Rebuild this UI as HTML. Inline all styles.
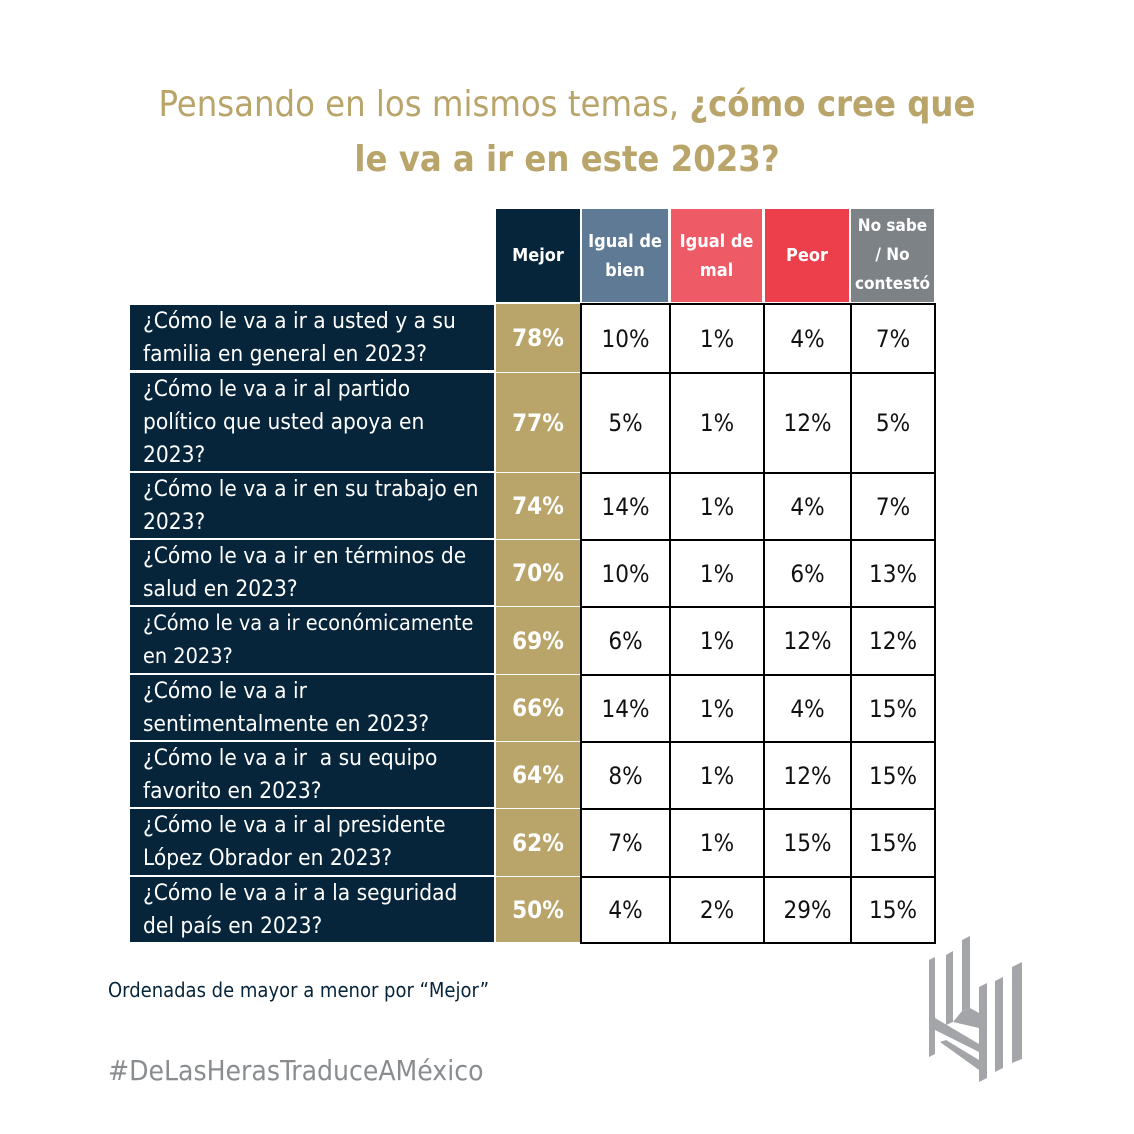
<!DOCTYPE html>
<html><head><meta charset="utf-8"><style>
body{margin:0;width:1134px;height:1134px;background:#fff;position:relative;overflow:hidden;font-family:"Liberation Sans Narrow","DejaVu Sans Condensed","Liberation Sans",sans-serif}
.a{position:absolute;box-sizing:border-box}
.t{left:0;width:1134px;text-align:center;color:#b9a46a;font-size:36px;white-space:nowrap}
.h{color:#fff;font-weight:bold;font-size:18px;display:flex;align-items:center;justify-content:center;text-align:center;line-height:29px;white-space:nowrap}
.q{background:#06243a;color:#fff;font-size:22.5px;line-height:33px;padding-left:13px;display:flex;align-items:center;left:130px;width:364px;white-space:nowrap;overflow:hidden}
.m{background:#b9a46a;color:#fff;font-weight:bold;font-size:24px;display:flex;align-items:center;justify-content:center;left:496px;width:84px}
.c{border:2px solid #000;font-size:24px;display:flex;align-items:center;justify-content:center;color:#111}
</style></head><body>
<div class="a t" style="top:84px">Pensando en los mismos temas, <b>¿cómo cree que</b></div>
<div class="a t" style="top:139px"><b>le va a ir en este 2023?</b></div>

<div class="a h" style="left:496px;top:209px;width:84px;height:93px;background:#06243a">Mejor</div>
<div class="a h" style="left:582px;top:209px;width:86px;height:93px;background:#5e7a95">Igual de<br>bien</div>
<div class="a h" style="left:671px;top:209px;width:91px;height:93px;background:#ee5a66">Igual de<br>mal</div>
<div class="a h" style="left:765px;top:209px;width:84px;height:93px;background:#ec3e4b">Peor</div>
<div class="a h" style="left:851px;top:209px;width:83px;height:93px;background:#7d8287;font-size:17px">No sabe<br>/ No<br>contestó</div>

<div class="a q" style="top:305px;height:65px">¿Cómo le va a ir a usted y a su<br>familia en general en 2023?</div>
<div class="a q" style="top:373px;height:98px">¿Cómo le va a ir al partido<br>político que usted apoya en<br>2023?</div>
<div class="a q" style="top:473px;height:65px">¿Cómo le va a ir en su trabajo en<br>2023?</div>
<div class="a q" style="top:540px;height:65px">¿Cómo le va a ir en términos de<br>salud en 2023?</div>
<div class="a q" style="top:607px;height:66px;font-size:21.5px">¿Cómo le va a ir económicamente<br>en 2023?</div>
<div class="a q" style="top:675px;height:65px">¿Cómo le va a ir<br>sentimentalmente en 2023?</div>
<div class="a q" style="top:742px;height:65px">¿Cómo le va a ir &nbsp;a su equipo<br>favorito en 2023?</div>
<div class="a q" style="top:809px;height:66px">¿Cómo le va a ir al presidente<br>López Obrador en 2023?</div>
<div class="a q" style="top:877px;height:65px">¿Cómo le va a ir a la seguridad<br>del país en 2023?</div>

<div id="g"></div>
<script>
var tops=[303,372,472,539,606,674,741,808,876,942];
var d=[["78%","10%","1%","4%","7%"],["77%","5%","1%","12%","5%"],["74%","14%","1%","4%","7%"],["70%","10%","1%","6%","13%"],["69%","6%","1%","12%","12%"],["66%","14%","1%","4%","15%"],["64%","8%","1%","12%","15%"],["62%","7%","1%","15%","15%"],["50%","4%","2%","29%","15%"]];
var xs=[580,669,763,850,934];var h="";
for(var i=0;i<9;i++){var t=tops[i],b=tops[i+1];
h+='<div class="a m" style="top:'+(t+1)+'px;height:'+(b-t-1)+'px">'+d[i][0]+'</div>';
for(var j=0;j<4;j++){h+='<div class="a c" style="left:'+xs[j]+'px;top:'+t+'px;width:'+(xs[j+1]-xs[j]+2)+'px;height:'+(b-t+2)+'px">'+d[i][j+1]+'</div>';}}
document.getElementById("g").innerHTML=h;
</script>

<div class="a" style="left:108px;top:978px;font-size:20px;color:#06243a;white-space:nowrap">Ordenadas de mayor a menor por “Mejor”</div>
<div class="a" style="left:108px;top:1054px;font-size:28px;color:#8a8d90;white-space:nowrap">#DeLasHerasTraduceAMéxico</div>

<svg class="a" style="left:0;top:0" width="1134" height="1134">
<g fill="#a3a5a8">
<polygon points="929,960 935,957 935,1054 929,1057"/>
<polygon points="946,955 953,951 953,1022 946,1025"/>
<polygon points="962,940 970,936 970,1008 962,1011"/>
<polygon points="935,1030 935,1018 979,1044 987,1040 987,1048 979,1052"/>
<polygon points="953,1022 962,1011 970,1008 979,1013 979,1028"/>
<polygon points="940,1042 946,1040 979,1060 979,1070"/>
<polygon points="979,987 987,983 987,1078 979,1082"/>
<polygon points="995,981 1003,977 1003,1068 995,1072"/>
<polygon points="1012,967 1022,962 1022,1059 1012,1063"/>
</g></svg>
</body></html>
